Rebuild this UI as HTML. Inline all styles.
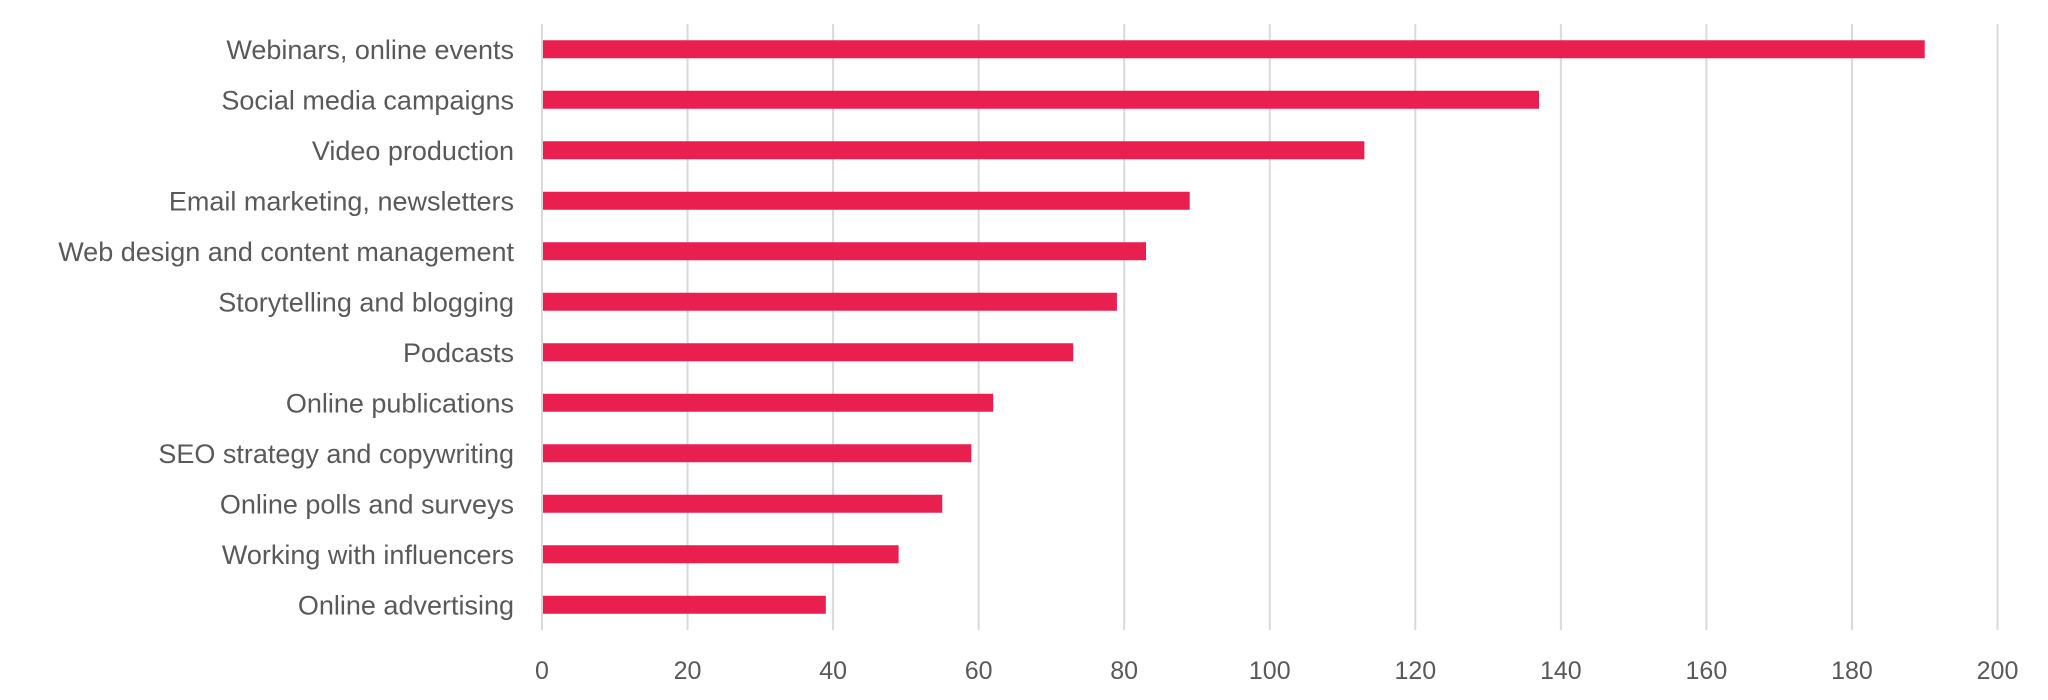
<!DOCTYPE html>
<html><head><meta charset="utf-8"><style>
html,body{margin:0;padding:0;background:#fff;}
svg{display:block;font-family:"Liberation Sans",sans-serif;}
</style></head><body>
<svg id="chart" width="2048" height="700" xmlns="http://www.w3.org/2000/svg">
<g id="grid"></g>
<g id="bars"></g>
<g id="ylabels"></g>
<g id="xlabels"></g>
</svg>
<script>
const categories = ["Webinars, online events","Social media campaigns","Video production","Email marketing, newsletters","Web design and content management","Storytelling and blogging","Podcasts","Online publications","SEO strategy and copywriting","Online polls and surveys","Working with influencers","Online advertising"];
const values = [190,137,113,89,83,79,73,62,59,55,49,39];
const ticks = [0,20,40,60,80,100,120,140,160,180,200];

const NS="http://www.w3.org/2000/svg";
const x0=542, x1=1997.5, xMax=200, yTop=24, yBot=630;
const band=(yBot-yTop)/categories.length, barH=18;
const xs=v=>x0+(v/xMax)*(x1-x0);
const yc=i=>yTop+band*(i+0.5);
const grid=document.getElementById('grid'), bars=document.getElementById('bars'), yl=document.getElementById('ylabels'), xl=document.getElementById('xlabels');
ticks.forEach(t=>{
  const l=document.createElementNS(NS,'line');
  
  
  l.setAttribute('x1',xs(t));l.setAttribute('x2',xs(t));l.setAttribute('y1',yTop);l.setAttribute('y2',yBot);
  l.setAttribute('stroke','#d9d9d9');l.setAttribute('stroke-width','2');
  grid.appendChild(l);
  const tx=document.createElementNS(NS,'text');
  
  
  tx.setAttribute('x',xs(t));tx.setAttribute('y',679);tx.setAttribute('text-anchor','middle');
  tx.setAttribute('font-size','25');tx.setAttribute('fill','#595959');
  tx.textContent=t;xl.appendChild(tx);
});
categories.forEach((c,i)=>{
  const r=document.createElementNS(NS,'rect');
  
  
  r.setAttribute('x',x0+1);r.setAttribute('y',yc(i)-barH/2);
  r.setAttribute('width',xs(values[i])-x0-1);r.setAttribute('height',barH);
  r.setAttribute('fill','#E91F50');
  bars.appendChild(r);
  const t=document.createElementNS(NS,'text');
  
  
  t.setAttribute('x',514);t.setAttribute('y',yc(i)+9.5);t.setAttribute('text-anchor','end');
  t.setAttribute('font-size','27');t.setAttribute('fill','#595959');
  t.textContent=c;yl.appendChild(t);
});
</script>
</body></html>
